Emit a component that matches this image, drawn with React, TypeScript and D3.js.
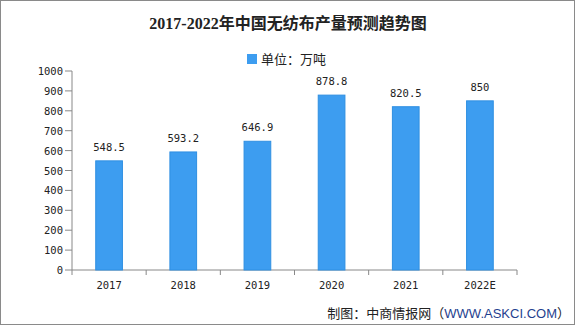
import * as d3 from "d3";
import React from "react";

const years = ["2017", "2018", "2019", "2020", "2021", "2022E"];
const output = [548.5, 593.2, 646.9, 878.8, 820.5, 850];
const yTicks = [0, 100, 200, 300, 400, 500, 600, 700, 800, 900, 1000];

const W = 585;
const H = 327;
const margin = {top: 71, right: 68, bottom: 57, left: 72};

const App = () => {
    const x = d3.scaleBand()
        .domain(years)
        .range([margin.left, W - margin.right])
        .paddingInner(0.64)
        .paddingOuter(0.32);
    const y = d3.scaleLinear()
        .domain([0, 1000])
        .range([H - margin.bottom, margin.top]);
    const step = x.step();
    const bottom = y(0);
    const fontNum = "'DejaVu Sans Mono', 'Liberation Mono', monospace";
    const fontCjk = "'Noto Sans CJK SC', sans-serif";

    return (
        <svg width={W} height={H} style={{position: "absolute", left: 0, top: 0, background: "#fff"}}>
            <rect x={0.5} y={0.5} width={574} height={324} fill="#fff" stroke="#8a8a8a" />
            <text x={288} y={29} textAnchor="middle" fontFamily="'Liberation Serif', 'Noto Sans CJK SC', serif"
                  fontWeight="bold" fontSize={16} fill="#222">2017-2022年中国无纺布产量预测趋势图</text>
            {/* legend */}
            <rect x={247} y={54} width={10} height={10} fill="#3d9df0" />
            <text x={261} y={64} fontFamily={fontCjk} fontSize={13} fill="#222">单位：万吨</text>

            {/* y axis */}
            <line x1={margin.left} x2={margin.left} y1={y(1000)} y2={bottom} stroke="#888" />
            {yTicks.map(t => (
                <g key={t}>
                    <line x1={margin.left - 7} x2={margin.left} y1={y(t)} y2={y(t)} stroke="#888" />
                    <text x={margin.left - 9} y={y(t) + 4} textAnchor="end" fontFamily={fontNum}
                          fontSize={10.5} fill="#222">{t}</text>
                </g>
            ))}

            {/* x axis */}
            <line x1={margin.left} x2={W - margin.right} y1={bottom} y2={bottom} stroke="#888" />
            {d3.range(years.length + 1).map(i => {
                const px = margin.left + i * step;
                return <line key={i} x1={px} x2={px} y1={bottom} y2={bottom + 5} stroke="#888" />;
            })}
            {years.map(yr => (
                <text key={yr} x={x(yr)! + x.bandwidth() / 2} y={bottom + 19} textAnchor="middle"
                      fontFamily={fontNum} fontSize={10.5} fill="#222">{yr}</text>
            ))}

            {/* bars */}
            {years.map((yr, i) => (
                <g key={yr}>
                    <rect x={x(yr)} y={y(output[i])} width={x.bandwidth()} height={bottom - y(output[i])}
                          fill="#3d9df0" stroke="#2f8fe2" strokeWidth={1} />
                    <text x={x(yr)! + x.bandwidth() / 2} y={y(output[i]) - 10} textAnchor="middle"
                          fontFamily={fontNum} fontSize={10.5} fill="#222">{output[i]}</text>
                </g>
            ))}

            <text x={570} y={318} textAnchor="end" fontFamily={fontCjk} fontSize={13} fill="#222">
                制图：中商情报网（<tspan fill="#1f3f8f" fontFamily="'Liberation Sans', sans-serif">WWW.ASKCI.COM</tspan>）
            </text>
        </svg>
    );
};

export default App;
